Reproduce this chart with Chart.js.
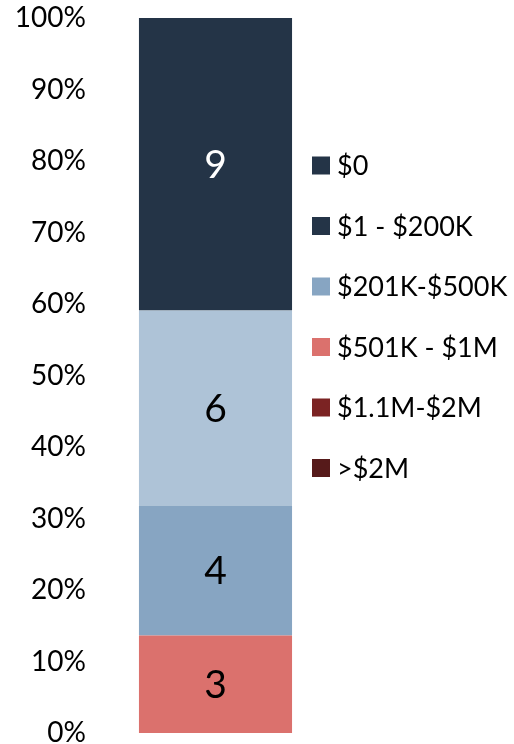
<!DOCTYPE html>
<html>
<head>
<meta charset="utf-8">
<script src="https://cdn.jsdelivr.net/npm/chart.js@4.4.1/dist/chart.umd.min.js"></script>
<style>
  html, body { margin: 0; padding: 0; background: #fff; }
  #wrap { width: 514px; height: 744px; }
</style>
</head>
<body>
<div id="wrap"><canvas id="myChart" width="514" height="744"></canvas></div>
<script>
// bands listed bottom of the stack first
const bands = [">$2M", "$1.1M-$2M", "$501K - $1M", "$201K-$500K", "$1 - $200K", "$0"];
const counts = [0, 0, 3, 4, 6, 9];
const barColors = ["#561a1a", "#7b2323", "#db716d", "#87a5c2", "#aec3d7", "#243447"];
const legendColors = ["#561a1a", "#7b2323", "#db716d", "#87a5c2", "#243447", "#243447"];
const labelColors = ["#000", "#fff", "#000", "#000", "#000", "#fff"];
const yTicks = [0, 10, 20, 30, 40, 50, 60, 70, 80, 90, 100];

const total = counts.reduce((a, b) => a + b, 0);
const fontFamily = "Lato, 'Open Sans', sans-serif";

const datasets = bands.map((b, i) => {
  return {
    label: b,
    data: [counts[i] / total * 100],
    backgroundColor: barColors[i],
    borderWidth: 0,
    barPercentage: 0.63,
    categoryPercentage: 1
  };
});

// count labels in the middle of each segment
const segmentLabels = {
  id: "segmentLabels",
  afterDatasetsDraw(chart) {
    const ctx = chart.ctx;
    ctx.save();
    ctx.font = "39px " + fontFamily;
    ctx.textAlign = "center";
    ctx.textBaseline = "middle";
    chart.data.datasets.forEach((ds, i) => {
      if (!counts[i]) return;
      const bar = chart.getDatasetMeta(i).data[0];
      ctx.fillStyle = labelColors[i];
      ctx.fillText(String(counts[i]), bar.x, (bar.y + bar.base) / 2 + 1);
    });
    ctx.restore();
  }
};

// legend on the right, top series first
const sideLegend = {
  id: "sideLegend",
  afterDraw(chart) {
    const ctx = chart.ctx;
    const x = 312, y0 = 165.5, step = 60.5, box = 18;
    ctx.save();
    ctx.font = "27px " + fontFamily;
    ctx.textBaseline = "middle";
    ctx.textAlign = "left";
    const n = chart.data.datasets.length;
    for (let k = 0; k < n; k++) {
      const i = n - 1 - k;
      const y = y0 + k * step;
      ctx.fillStyle = legendColors[i];
      ctx.fillRect(x, y - box / 2, box, box);
      ctx.fillStyle = "#000";
      ctx.fillText(chart.data.datasets[i].label, x + box + 7, y + 1);
    }
    ctx.restore();
  }
};

new Chart("myChart", {
  type: "bar",
  data: {
    labels: [""],
    datasets: datasets
  },
  options: {
    responsive: false,
    animation: false,
    layout: { padding: { top: 18, bottom: 11, left: 0, right: 177 } },
    plugins: {
      legend: { display: false },
      tooltip: { enabled: false }
    },
    scales: {
      x: {
        stacked: true,
        display: false
      },
      y: {
        stacked: true,
        min: 0,
        max: 100,
        afterFit(axis) { axis.width = 94; },
        afterBuildTicks(axis) { axis.ticks = yTicks.map(v => ({ value: v })); },
        grid: { display: false, drawTicks: false },
        border: { display: false },
        ticks: {
          padding: 8,
          color: "#000",
          font: { family: fontFamily, size: 28, lineHeight: 0.2 },
          callback: v => v + "%"
        }
      }
    }
  },
  plugins: [segmentLabels, sideLegend]
});
</script>
</body>
</html>
